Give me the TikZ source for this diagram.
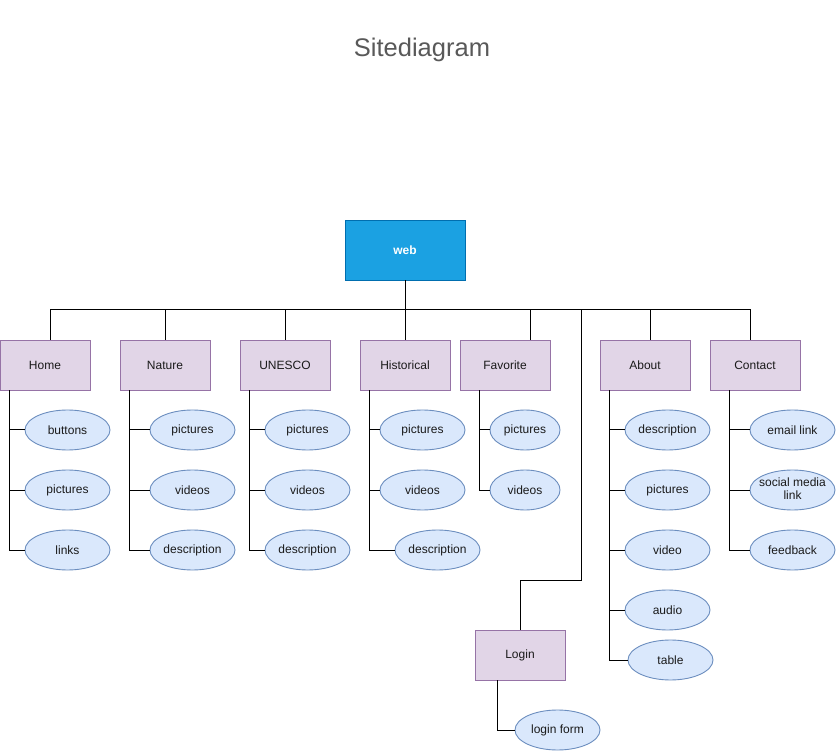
\documentclass[tikz,border=0pt]{standalone}
\usepackage{fontspec}
\setmainfont{Liberation Sans}
\usetikzlibrary{shapes.geometric}
\definecolor{webfill}{HTML}{1BA1E2}
\definecolor{webline}{HTML}{006EAF}
\definecolor{boxfill}{HTML}{E1D5E7}
\definecolor{boxline}{HTML}{9673A6}
\definecolor{ellfill}{HTML}{DAE8FC}
\definecolor{ellline}{HTML}{6C8EBF}
\definecolor{titlecol}{HTML}{595959}
\definecolor{txt}{HTML}{1A1A1A}
\tikzset{
  pagebox/.style={draw=boxline, fill=boxfill, line width=0.9pt, minimum width=90pt, minimum height=50pt, inner sep=0pt, font=\fontsize{12}{14}\selectfont, text=txt},
  rootbox/.style={draw=webline, fill=webfill, line width=0.9pt, minimum width=120pt, minimum height=60pt, inner sep=0pt, font=\fontsize{12}{14}\selectfont\bfseries, text=white},
  leaf/.style={ellipse, draw=ellline, fill=ellfill, line width=0.9pt, minimum width=85pt, minimum height=40pt, inner sep=0pt, font=\fontsize{12}{14}\selectfont, text=txt},
  leafs/.style={leaf, minimum width=70pt},
  conn/.style={draw=black, line width=1pt},
  titlestyle/.style={font=\fontsize{25.5}{30}\selectfont, text=titlecol}
}
\begin{document}
\begin{tikzpicture}[x=1pt,y=-1pt]
\useasboundingbox[fill=white] (0,0) rectangle (836,751);
\node[titlestyle] (title) at (422,50) {Sitediagram};
\node[rootbox] (web) at (405,250) {web};
\coordinate (bus) at (405,310);
% top level
\node[pagebox] (home) at (45,365) {Home};
\node[pagebox] (nature) at (165,365) {Nature};
\node[pagebox] (unesco) at (285,365) {UNESCO};
\node[pagebox] (hist) at (405,365) {Historical};
\node[pagebox] (fav) at (505,365) {Favorite};
\node[pagebox] (about) at (645,365) {About};
\node[pagebox] (contact) at (755,365) {Contact};
\node[pagebox] (login) at (520,655) {Login};
% leaves
\node[leaf] (h1) at (67.5,430) {buttons};
\node[leaf] (h2) at (67.5,490) {pictures};
\node[leaf] (h3) at (67.5,550) {links};
\node[leaf] (n1) at (192.5,430) {pictures};
\node[leaf] (n2) at (192.5,490) {videos};
\node[leaf] (n3) at (192.5,550) {description};
\node[leaf] (u1) at (307.5,430) {pictures};
\node[leaf] (u2) at (307.5,490) {videos};
\node[leaf] (u3) at (307.5,550) {description};
\node[leaf] (s1) at (422.5,430) {pictures};
\node[leaf] (s2) at (422.5,490) {videos};
\node[leaf] (s3) at (437.5,550) {description};
\node[leafs] (f1) at (525,430) {pictures};
\node[leafs] (f2) at (525,490) {videos};
\node[leaf] (a1) at (667.5,430) {description};
\node[leaf] (a2) at (667.5,490) {pictures};
\node[leaf] (a3) at (667.5,550) {video};
\node[leaf] (a4) at (667.5,610) {audio};
\node[leaf] (a5) at (670.5,660) {table};
\node[leaf] (c1) at (792.5,430) {email link};
\node[leaf] (c2) at (792.5,490) {\makebox[40pt][c]{\begin{tabular}{@{}c@{}}social media\\[-1pt]link\end{tabular}}};
\node[leaf] (c3) at (792.5,550) {feedback};
\node[leaf] (l1) at (557.5,730) {login form};
% connectors from root
\draw[conn] (web.south) -- (bus);
\draw[conn] ([xshift=5pt]home.north) |- (bus);
\draw[conn] (nature.north) |- (bus);
\draw[conn] (unesco.north) |- (bus);
\draw[conn] (hist.north) -- (bus);
\draw[conn] ([xshift=25pt]fav.north) |- (bus);
\draw[conn] ([xshift=5pt]about.north) |- (bus);
\draw[conn] ([xshift=-5pt]contact.north) |- (bus);
\coordinate (lbend) at (581,580);
\draw[conn] (login.north) |- (lbend) -- (lbend |- bus) -- (bus);
% children
\foreach \c in {h1,h2,h3} \draw[conn] ([xshift=10pt]home.south west) |- (\c.west);
\foreach \c in {n1,n2,n3} \draw[conn] ([xshift=10pt]nature.south west) |- (\c.west);
\foreach \c in {u1,u2,u3} \draw[conn] ([xshift=10pt]unesco.south west) |- (\c.west);
\foreach \c in {s1,s2,s3} \draw[conn] ([xshift=10pt]hist.south west) |- (\c.west);
\foreach \c in {f1,f2} \draw[conn] ([xshift=20pt]fav.south west) |- (\c.west);
\foreach \c in {a1,a2,a3,a4,a5} \draw[conn] ([xshift=10pt]about.south west) |- (\c.west);
\foreach \c in {c1,c2,c3} \draw[conn] ([xshift=20pt]contact.south west) |- (\c.west);
\draw[conn] ([xshift=23pt]login.south west) |- (l1.west);
\end{tikzpicture}
\end{document}
